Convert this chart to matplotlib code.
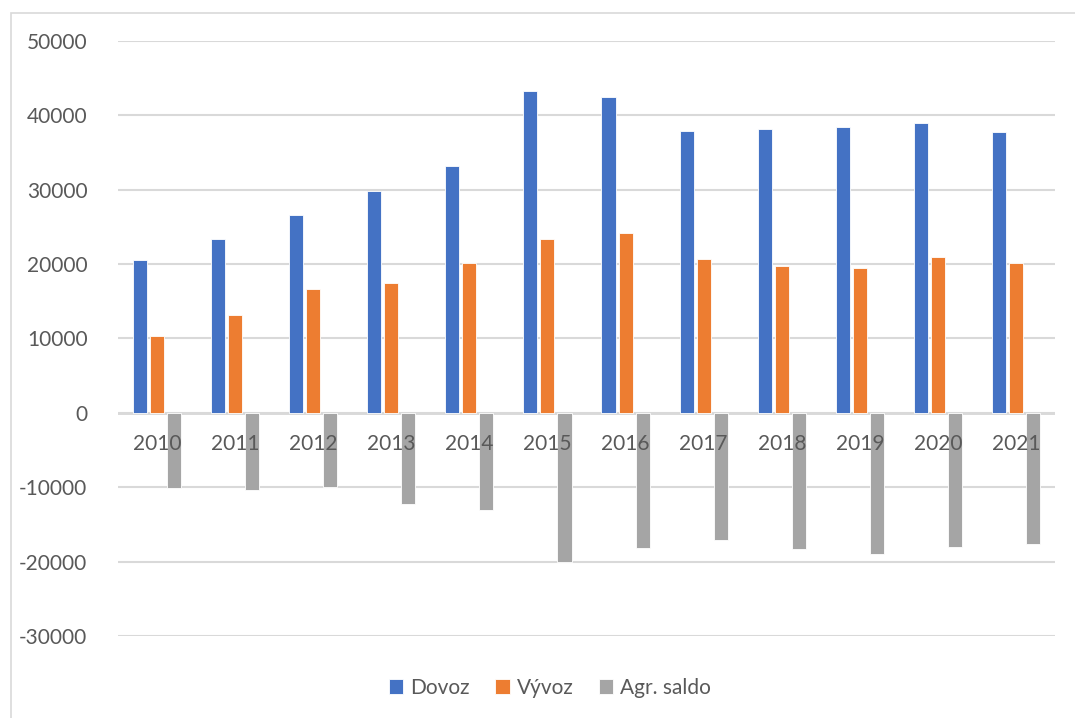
import numpy as np
import matplotlib
matplotlib.use("Agg")
import matplotlib.pyplot as plt
import matplotlib.transforms as mtransforms
from matplotlib.patches import Rectangle

# data
years = ["2010", "2011", "2012", "2013", "2014", "2015",
         "2016", "2017", "2018", "2019", "2020", "2021"]
dovoz = [20500, 23430, 26560, 29790, 33240, 43320,
         42420, 37850, 38170, 38440, 38980, 37810]
vyvoz = [10390, 13120, 16610, 17510, 20160, 23390,
         24190, 20740, 19760, 19490, 20970, 20200]
saldo = [-10080, -10310, -10000, -12280, -13040, -20030,
         -18190, -17070, -18330, -18960, -18060, -17610]
series_names = ["Dovoz", "Vývoz", "Agr. saldo"]
yticks = [-30000, -20000, -10000, 0, 10000, 20000, 30000, 40000, 50000]

colors = ["#4472C4", "#ED7D31", "#A5A5A5"]
text_color = "#595959"
grid_color = "#D9D9D9"

plt.rcParams["font.family"] = ["Lato", "DejaVu Sans"]

W, H = 1075, 718
fig = plt.figure(figsize=(W / 100, H / 100), dpi=100)
ax = fig.add_axes([118 / W, 1 - 636 / H, (1055 - 118) / W, (636 - 41) / H])

x = np.arange(len(years))
width = 0.18
step = 0.218
for k, (vals, name) in enumerate(zip([dovoz, vyvoz, saldo], series_names)):
    ax.bar(x + (k - 1) * step, vals, width=width, color=colors[k],
           edgecolor="white", linewidth=0.6, label=name, zorder=3)

ax.set_xlim(-0.5, len(years) - 0.5)
ax.set_ylim(-30000, 50000)
ax.set_yticks(yticks)
ax.set_yticklabels([str(v) for v in yticks], fontsize=15, color=text_color)
ax.tick_params(axis="y", length=0, pad=22)
ax.set_xticks([])
ax.grid(axis="y", color=grid_color, linewidth=1.5, zorder=0)
ax.axhline(0, color="#D0D0D0", linewidth=1.8, zorder=1)
for s in ax.spines.values():
    s.set_visible(False)

# category labels sit just below the zero line, over the bars
off = mtransforms.offset_copy(ax.transData, fig=fig, x=0, y=-31, units="dots")
for i, yr in enumerate(years):
    ax.text(i, 0, yr, transform=off, ha="center", va="center",
            fontsize=15, color=text_color, zorder=5)

fig.legend(loc="center", bbox_to_anchor=(550 / W, 1 - 688 / H), ncol=3,
           frameon=False, fontsize=15, labelcolor=text_color,
           handlelength=0.7, handleheight=0.7, handletextpad=0.35,
           columnspacing=1.2)

# outer chart frame (runs off the right and bottom edges)
fig.patches.append(Rectangle((11 / W, -0.1), 1.2, 1.1 - 13 / H,
                             transform=fig.transFigure, fill=False,
                             edgecolor=grid_color, linewidth=1.2))

fig.savefig("out.png", dpi=100, facecolor="white")
